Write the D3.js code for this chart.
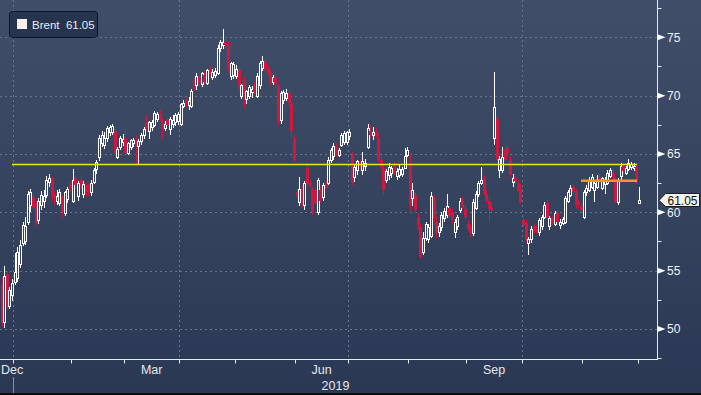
<!DOCTYPE html>
<html>
<head>
<meta charset="utf-8">
<script src="https://cdn.jsdelivr.net/npm/d3@7"></script>
<style>
  html, body { margin: 0; padding: 0; background: #2c3a56; overflow: hidden; }
  svg { display: block; font-family: "Liberation Sans", Arial, sans-serif; }
</style>
</head>
<body>
<div id="viz"></div>
<script>
// daily Brent candles, [open, high, low, close], one array per month
const dec18 = [
  [53.8, 54.4, 50.2, 50.5], [50.6, 55.4, 50.1, 54.5], [54.7, 55.0, 51.6, 51.9],
  [52.0, 53.6, 51.7, 53.3], [52.9, 54.3, 52.4, 53.9]
];
const jan19 = [
  [54.0, 56.5, 53.8, 54.9], [54.4, 57.0, 54.0, 56.6], [55.6, 57.6, 55.2, 57.2],
  [57.4, 59.2, 57.1, 58.9], [57.5, 59.6, 57.2, 58.8], [59.2, 61.8, 58.9, 61.6],
  [60.6, 62.0, 60.0, 61.7], [61.3, 61.6, 60.2, 60.4], [60.8, 61.0, 58.9, 59.1],
  [59.3, 61.2, 59.0, 61.0], [60.6, 61.8, 60.2, 61.5], [61.0, 61.9, 60.4, 61.4],
  [61.5, 63.1, 61.2, 62.8], [62.6, 63.3, 62.2, 62.9], [62.9, 63.0, 61.0, 61.4],
  [61.6, 61.8, 60.6, 61.2], [61.0, 61.9, 60.6, 61.4], [60.8, 62.0, 60.5, 61.7],
  [61.4, 61.5, 59.6, 60.0], [59.9, 61.8, 59.7, 61.7], [61.1, 62.2, 60.8, 62.0],
  [62.3, 62.6, 61.7, 62.1]
];
const feb19 = [
  [61.0, 63.7, 60.8, 62.8], [62.9, 63.1, 62.0, 62.3], [61.4, 62.7, 61.0, 62.5],
  [62.8, 63.0, 61.9, 62.1], [61.6, 62.7, 61.2, 62.4], [62.2, 62.5, 61.3, 61.7],
  [62.3, 62.5, 61.4, 61.8], [61.7, 62.8, 61.4, 62.5], [62.6, 63.8, 62.4, 63.6],
  [63.7, 64.5, 63.3, 64.3], [64.7, 66.6, 64.4, 66.4], [65.9, 67.0, 65.6, 66.6],
  [65.8, 66.9, 65.4, 66.4], [66.4, 67.4, 66.0, 67.2], [66.9, 67.5, 66.5, 67.3],
  [66.9, 67.6, 66.6, 67.4], [67.0, 67.3, 64.8, 65.1], [64.7, 65.6, 64.6, 65.4],
  [65.6, 66.5, 65.3, 66.4], [66.0, 66.7, 65.7, 66.3]
];
const mar19 = [
  [66.4, 67.2, 65.0, 65.1], [65.1, 66.0, 64.9, 65.9], [65.6, 66.3, 65.3, 66.2],
  [65.9, 66.4, 65.6, 66.2], [66.1, 66.5, 64.1, 65.7], [65.7, 66.3, 64.1, 66.1],
  [66.1, 66.8, 65.8, 66.6], [66.6, 67.3, 66.3, 67.1], [67.7, 68.3, 67.0, 67.2],
  [67.0, 67.8, 66.3, 67.7], [67.3, 67.9, 67.0, 67.7], [67.5, 68.7, 67.3, 68.5],
  [68.0, 68.6, 67.7, 68.4], [68.4, 68.8, 67.8, 67.9], [67.9, 68.1, 66.3, 67.1],
  [67.2, 67.8, 67.0, 67.6], [67.9, 68.1, 67.4, 67.5], [67.1, 68.2, 66.6, 68.0],
  [67.6, 68.3, 67.2, 67.9], [67.7, 68.5, 67.4, 68.3], [67.8, 68.6, 67.5, 68.4]
];
const apr19 = [
  [67.6, 69.4, 67.4, 69.3], [69.1, 69.6, 68.9, 69.4], [69.6, 69.8, 69.0, 69.3],
  [69.2, 69.9, 68.8, 69.5], [69.1, 70.6, 68.9, 70.4], [71.3, 71.5, 70.4, 70.6],
  [70.9, 71.9, 70.5, 71.7], [71.6, 71.9, 70.8, 71.1], [71.0, 72.0, 70.7, 71.9],
  [71.8, 72.1, 71.0, 71.2], [71.1, 72.3, 70.9, 72.2], [72.2, 72.5, 71.7, 71.9],
  [71.6, 72.3, 71.3, 72.0], [71.8, 72.4, 71.5, 72.1], [71.9, 74.3, 71.8, 74.1],
  [74.1, 74.8, 73.7, 74.6], [74.3, 75.7, 74.0, 74.6], [74.6, 75.1, 74.0, 74.3],
  [74.3, 74.6, 72.0, 72.3], [71.7, 72.9, 71.3, 72.8], [71.8, 72.9, 71.4, 72.7]
];
const may19 = [
  [71.7, 72.6, 71.4, 72.3], [72.2, 72.4, 70.5, 70.7], [70.0, 71.0, 69.7, 70.9],
  [71.3, 71.6, 68.9, 69.9], [69.7, 70.5, 69.3, 70.4], [70.0, 70.9, 69.7, 70.7],
  [70.3, 70.8, 69.8, 70.6], [70.9, 71.2, 70.1, 70.3], [70.0, 71.9, 69.8, 71.7],
  [70.9, 73.0, 70.6, 72.8], [72.4, 73.4, 72.1, 73.0], [72.9, 73.2, 72.0, 72.2],
  [72.3, 72.6, 71.8, 72.0], [72.0, 72.2, 70.9, 71.1], [71.2, 71.8, 70.9, 71.6],
  [71.6, 71.9, 70.6, 71.0], [70.9, 71.1, 67.5, 67.7], [67.9, 70.4, 67.6, 70.2],
  [69.6, 70.5, 69.3, 70.3], [69.8, 70.6, 69.5, 70.2], [70.2, 70.5, 69.0, 69.4],
  [69.3, 69.5, 66.4, 67.0], [66.3, 66.6, 64.3, 64.5]
];
const jun19 = [
  [61.7, 62.0, 61.2, 61.4], [60.9, 63.0, 60.5, 62.0], [62.0, 62.3, 60.4, 60.6],
  [60.6, 62.7, 60.2, 62.5], [63.8, 64.2, 62.2, 62.4], [62.5, 62.8, 62.1, 62.3],
  [62.0, 62.2, 59.8, 60.0], [61.9, 62.1, 60.6, 60.8], [60.0, 62.9, 59.8, 62.8],
  [61.9, 62.2, 60.8, 61.0], [61.3, 62.5, 61.0, 62.3], [62.6, 62.8, 62.0, 62.1],
  [62.5, 64.7, 62.3, 64.5], [64.5, 65.5, 64.2, 65.3], [64.8, 65.9, 64.5, 65.7],
  [65.6, 65.9, 64.7, 64.9], [64.9, 65.5, 64.7, 65.3], [65.8, 66.8, 65.6, 66.6],
  [66.0, 67.0, 65.8, 66.8], [66.0, 67.0, 65.8, 66.9]
];
const jul19 = [
  [66.5, 67.1, 66.2, 66.9], [64.9, 65.2, 62.3, 62.5], [63.0, 64.1, 62.6, 63.9],
  [63.6, 64.5, 63.2, 64.4], [64.3, 64.6, 63.7, 64.0], [63.6, 65.2, 63.2, 64.4],
  [64.0, 64.6, 63.5, 64.2], [65.6, 67.6, 65.4, 67.2], [67.0, 67.5, 66.4, 66.6],
  [66.6, 67.3, 66.2, 66.9], [66.9, 67.2, 66.4, 66.6], [66.4, 66.7, 64.3, 64.5],
  [64.5, 64.9, 63.7, 63.9], [63.8, 64.1, 61.5, 61.9], [62.8, 63.7, 62.5, 63.5],
  [63.2, 64.2, 62.8, 63.9], [63.4, 64.0, 62.9, 63.8], [64.0, 64.3, 63.2, 63.4],
  [63.1, 63.8, 62.8, 63.5], [63.2, 64.1, 62.9, 63.7], [63.3, 63.9, 63.0, 63.7],
  [63.8, 65.5, 63.7, 64.8], [64.9, 65.6, 64.7, 65.3]
];
const aug19 = [
  [64.2, 65.0, 60.1, 60.6], [61.2, 62.5, 60.5, 61.9], [61.5, 61.7, 59.9, 60.2],
  [59.6, 59.9, 58.5, 58.9], [58.7, 59.0, 56.0, 56.2], [56.6, 58.3, 56.3, 57.8],
  [57.8, 59.2, 57.5, 59.0], [57.7, 59.0, 57.4, 58.7], [58.0, 61.7, 57.8, 61.4],
  [61.2, 61.5, 59.2, 59.5], [59.2, 59.6, 57.8, 58.3], [58.3, 59.1, 57.9, 58.8],
  [58.7, 60.0, 58.4, 59.8], [59.5, 60.4, 59.2, 60.1], [59.8, 61.6, 59.5, 60.5],
  [60.4, 60.9, 59.5, 59.7], [60.0, 60.3, 59.1, 59.3], [58.3, 59.4, 57.8, 59.2],
  [58.8, 59.8, 58.5, 59.6], [60.2, 61.2, 59.9, 61.0], [61.0, 61.3, 60.3, 60.4],
  [60.3, 60.6, 59.4, 59.6]
];
const sep19 = [
  [59.0, 59.3, 58.4, 58.6], [58.7, 59.0, 57.9, 58.2], [58.2, 61.1, 58.0, 60.9],
  [60.4, 61.8, 60.2, 61.6], [61.6, 62.7, 61.3, 62.5], [62.5, 63.9, 62.3, 62.8],
  [62.9, 63.2, 61.5, 61.6], [61.6, 61.9, 60.8, 61.0], [61.0, 61.3, 59.1, 60.3],
  [60.4, 60.8, 60.0, 60.2], [66.4, 72.0, 65.8, 69.0], [68.1, 68.3, 64.2, 64.5],
  [63.6, 64.8, 62.9, 64.6], [63.6, 65.6, 63.4, 64.7], [65.3, 65.7, 64.3, 64.5],
  [65.5, 65.8, 64.9, 65.1], [64.5, 64.8, 63.0, 63.2], [62.6, 63.3, 62.2, 62.9],
  [63.0, 63.2, 62.4, 62.7], [62.5, 62.8, 61.7, 61.8], [62.2, 62.4, 60.7, 60.9]
];
const oct19 = [
  [59.3, 59.6, 58.7, 58.9], [59.1, 59.3, 57.4, 57.6], [57.4, 57.9, 56.3, 57.7],
  [57.7, 58.8, 57.4, 58.6], [58.8, 59.0, 58.2, 58.4], [58.6, 58.8, 58.1, 58.3],
  [58.3, 59.5, 58.0, 59.3], [58.8, 59.8, 58.5, 59.6], [59.6, 60.9, 59.4, 60.6],
  [60.8, 61.1, 59.3, 59.5], [58.8, 59.7, 58.5, 59.5], [59.5, 59.7, 58.9, 59.0],
  [59.0, 60.1, 58.8, 59.9], [59.9, 60.2, 59.1, 59.2], [58.9, 59.4, 58.6, 59.2],
  [59.1, 59.6, 58.9, 59.4], [59.2, 61.4, 59.0, 61.2], [61.0, 61.9, 60.8, 61.7],
  [61.5, 62.3, 61.3, 62.1], [62.2, 62.4, 61.5, 61.7], [61.8, 62.0, 60.4, 60.6],
  [60.9, 61.1, 60.3, 60.6], [60.5, 60.8, 60.0, 60.2]
];
const nov19 = [
  [59.6, 61.9, 59.4, 61.7], [61.7, 62.3, 61.4, 62.1], [61.9, 63.0, 61.7, 62.8],
  [62.2, 63.3, 62.0, 63.0], [61.9, 62.8, 60.9, 62.5], [62.2, 63.2, 62.0, 62.8],
  [63.0, 63.3, 62.4, 62.7], [62.1, 63.0, 61.9, 62.9], [62.4, 63.0, 61.6, 62.8],
  [62.5, 63.6, 62.3, 63.4], [63.1, 63.8, 62.9, 63.6], [63.4, 63.7, 62.6, 62.8],
  [62.8, 63.0, 60.8, 60.9], [60.9, 62.9, 60.6, 62.7], [63.1, 64.2, 62.8, 64.0],
  [64.0, 64.2, 63.3, 63.5], [63.4, 64.0, 63.2, 63.8], [63.7, 64.6, 63.5, 64.2],
  [63.9, 64.3, 63.6, 64.1], [63.8, 64.2, 63.5, 64.0], [63.9, 64.1, 62.4, 62.5]
];
const dec19 = [
  [60.8, 62.2, 60.7, 61.05]
];

// trading calendar
const firstDay = "2018-12-24";
const lastDay = "2019-12-02";
const holidays = ["2018-12-25", "2019-01-01", "2019-04-19"];

const seriesName = "Brent";
const lastPrice = 61.05;
const yTicks = [50, 55, 60, 65, 70, 75];
const yMinorTicks = [47.5, 52.5, 57.5, 62.5, 67.5, 72.5, 77.5];
const labelMonths = ["2018-12", "2019-03", "2019-06", "2019-09"];
const yearLabel = "2019";
const yellowLine = { from: "2018-12-31", to: "2019-11-29", value: 64.1 };
const orangeLine = { from: "2019-10-31", to: "2019-11-29", value: 62.7 };

const width = 701;
const height = 395;
const plotRight = 657.5;
const axisY = 359.5;

const fmt = d3.utcFormat("%Y-%m-%d");
const parse = d3.utcParse("%Y-%m-%d");

const dates = d3.utcDays(parse(firstDay), d3.utcDay.offset(parse(lastDay), 1))
  .filter(d => d.getUTCDay() !== 0 && d.getUTCDay() !== 6 && !holidays.includes(fmt(d)));

const candles = [dec18, jan19, feb19, mar19, apr19, may19, jun19, jul19, aug19, sep19, oct19, nov19, dec19].flat();
if (candles.length !== dates.length) console.error("length mismatch", candles.length, dates.length);

const data = dates.map((d, i) => ({
  key: fmt(d), date: d,
  o: candles[i][0], h: candles[i][1], l: candles[i][2], c: candles[i][3]
}));

const x = d3.scaleBand()
  .domain(data.map(d => d.key))
  .range([0.2, 640.3]);

const y = d3.scaleLinear()
  .domain([50, 75])
  .range([329, 37.3]);

const cx = key => Math.round(x(key) + x.bandwidth() / 2);

const svg = d3.select("#viz")
  .append("svg")
  .attr("width", width)
  .attr("height", height);

const grad = svg.append("defs").append("linearGradient")
  .attr("id", "bg").attr("x1", 0).attr("y1", 0).attr("x2", 0).attr("y2", 1);
grad.append("stop").attr("offset", "0%").attr("stop-color", "#414e69");
grad.append("stop").attr("offset", "91%").attr("stop-color", "#2d3a57");
grad.append("stop").attr("offset", "100%").attr("stop-color", "#2b3854");

svg.append("rect")
  .attr("width", width).attr("height", height)
  .attr("fill", "url(#bg)");

svg.append("clipPath").attr("id", "plot")
  .append("rect").attr("x", 0).attr("y", 0).attr("width", plotRight).attr("height", axisY);

// horizontal grid
svg.append("g")
  .selectAll("line")
  .data(yTicks)
  .enter()
  .append("line")
  .attr("x1", 0).attr("x2", plotRight)
  .attr("y1", d => Math.round(y(d)) + 0.5)
  .attr("y2", d => Math.round(y(d)) + 0.5)
  .attr("stroke", "#64758f")
  .attr("stroke-dasharray", "2,3");

// month starts
const monthStarts = data.filter((d, i) => i > 0 && d.date.getUTCMonth() !== data[i - 1].date.getUTCMonth());
const boundary = d => Math.round(x(d.key)) + 0.5;

// vertical grid at quarter starts
svg.append("g")
  .selectAll("line")
  .data(monthStarts.filter(d => d.date.getUTCMonth() % 3 === 0))
  .enter()
  .append("line")
  .attr("x1", boundary).attr("x2", boundary)
  .attr("y1", 0).attr("y2", axisY)
  .attr("stroke", "#64758f")
  .attr("stroke-dasharray", "2,3");

// candles
const up = d => d.c >= d.o;
const candle = svg.append("g")
  .attr("clip-path", "url(#plot)")
  .selectAll("g")
  .data(data)
  .enter()
  .append("g");

candle.append("line")
  .attr("x1", d => cx(d.key) + 0.5)
  .attr("x2", d => cx(d.key) + 0.5)
  .attr("y1", d => Math.round(y(d.h)))
  .attr("y2", d => Math.round(y(d.l)))
  .attr("stroke", d => up(d) ? "#ffffff" : "#d0173f");

candle.filter(d => up(d))
  .append("rect")
  .attr("x", d => cx(d.key) - 0.5)
  .attr("y", d => Math.round(y(d.c)) + 0.5)
  .attr("width", 2)
  .attr("height", d => Math.max(Math.round(y(d.o)) - Math.round(y(d.c)), 1))
  .attr("fill", "#34425e")
  .attr("stroke", "#ffffff");

candle.filter(d => !up(d))
  .append("rect")
  .attr("x", d => cx(d.key) - 1)
  .attr("y", d => Math.round(y(d.o)))
  .attr("width", 3)
  .attr("height", d => Math.max(Math.round(y(d.c)) - Math.round(y(d.o)), 1))
  .attr("fill", "#d0173f");

// reference lines
const refLine = (ln, color, w) => svg.append("line")
  .attr("x1", cx(ln.from)).attr("x2", cx(ln.to) + 1)
  .attr("y1", y(ln.value)).attr("y2", y(ln.value))
  .attr("stroke", color)
  .attr("stroke-width", w);
refLine(yellowLine, "#e9e41e", 1.5);
refLine(orangeLine, "#f3981d", 2.6);

// axes lines
svg.append("line")
  .attr("x1", 0).attr("x2", plotRight + 0.5)
  .attr("y1", axisY).attr("y2", axisY)
  .attr("stroke", "#e6e9ee");
svg.append("line")
  .attr("x1", plotRight).attr("x2", plotRight)
  .attr("y1", 0).attr("y2", axisY)
  .attr("stroke", "#e6e9ee");

// month ticks
svg.append("g")
  .selectAll("line")
  .data(monthStarts)
  .enter()
  .append("line")
  .attr("x1", boundary).attr("x2", boundary)
  .attr("y1", axisY).attr("y2", axisY + 4)
  .attr("stroke", "#e6e9ee");

// year separator
const yearStart = monthStarts.find(d => d.date.getUTCMonth() === 0);
svg.append("line")
  .attr("x1", boundary(yearStart)).attr("x2", boundary(yearStart))
  .attr("y1", 377).attr("y2", 393)
  .attr("stroke", "#8391a8");

// month labels
labelMonths.forEach(m => {
  const days = data.filter(d => d.key.slice(0, 7) === m);
  const x0 = x(days[0].key);
  const x1 = x(days[days.length - 1].key) + x.bandwidth();
  const t = svg.append("text")
    .attr("y", 374)
    .attr("fill", "#e4e7ec")
    .attr("font-size", "12.5px")
    .text(d3.utcFormat("%b")(days[0].date));
  const w = t.node().getComputedTextLength();
  t.attr("x", Math.max((x0 + x1) / 2 - w / 2, 1));
});

svg.append("text")
  .attr("x", (boundary(yearStart) + plotRight) / 2)
  .attr("y", 390)
  .attr("text-anchor", "middle")
  .attr("fill", "#e4e7ec")
  .attr("font-size", "12.5px")
  .text(yearLabel);

// y axis ticks and labels
svg.append("g")
  .selectAll("line")
  .data(yMinorTicks)
  .enter()
  .append("line")
  .attr("x1", plotRight).attr("x2", plotRight + 4)
  .attr("y1", d => Math.round(y(d)) + 0.5)
  .attr("y2", d => Math.round(y(d)) + 0.5)
  .attr("stroke", "#e6e9ee");

svg.append("g")
  .selectAll("path")
  .data(yTicks)
  .enter()
  .append("path")
  .attr("d", d => {
    const ty = y(d);
    return `M${plotRight},${ty - 3} L${plotRight + 8},${ty} L${plotRight},${ty + 3} Z`;
  })
  .attr("fill", "#ffffff");

svg.append("g")
  .selectAll("text")
  .data(yTicks)
  .enter()
  .append("text")
  .attr("x", 667)
  .attr("y", d => y(d) + 4.4)
  .attr("fill", "#f2f3f5")
  .attr("font-size", "12px")
  .text(d => d);

// last price tag
const py = Math.round(y(lastPrice)) + 0.5;
svg.append("path")
  .attr("d", `M659,${py} L665.5,${py - 7} L699.5,${py - 7} L699.5,${py + 6} L665.5,${py + 6} Z`)
  .attr("fill", "#f4f2ec")
  .attr("stroke", "#1b1b1b");
svg.append("text")
  .attr("x", 682.5)
  .attr("y", py + 4)
  .attr("text-anchor", "middle")
  .attr("fill", "#111111")
  .attr("font-size", "12px")
  .text(lastPrice.toFixed(2));

// legend
const legend = svg.append("g");
legend.append("rect")
  .attr("x", 9.5).attr("y", 11.5)
  .attr("width", 88).attr("height", 26)
  .attr("rx", 3)
  .attr("fill", "#27344d")
  .attr("stroke", "#0e1422");
legend.append("rect")
  .attr("x", 17).attr("y", 19)
  .attr("width", 10).attr("height", 10)
  .attr("fill", "#fcf0ef");
legend.append("text")
  .attr("x", 32).attr("y", 28.5)
  .attr("fill", "#e9ecf1")
  .attr("font-size", "11.5px")
  .style("white-space", "pre")
  .text(seriesName + "  " + lastPrice.toFixed(2));

// bottom border
svg.append("rect")
  .attr("x", 0).attr("y", 393)
  .attr("width", width).attr("height", 2)
  .attr("fill", "#0b0b0b");
</script>
</body>
</html>
